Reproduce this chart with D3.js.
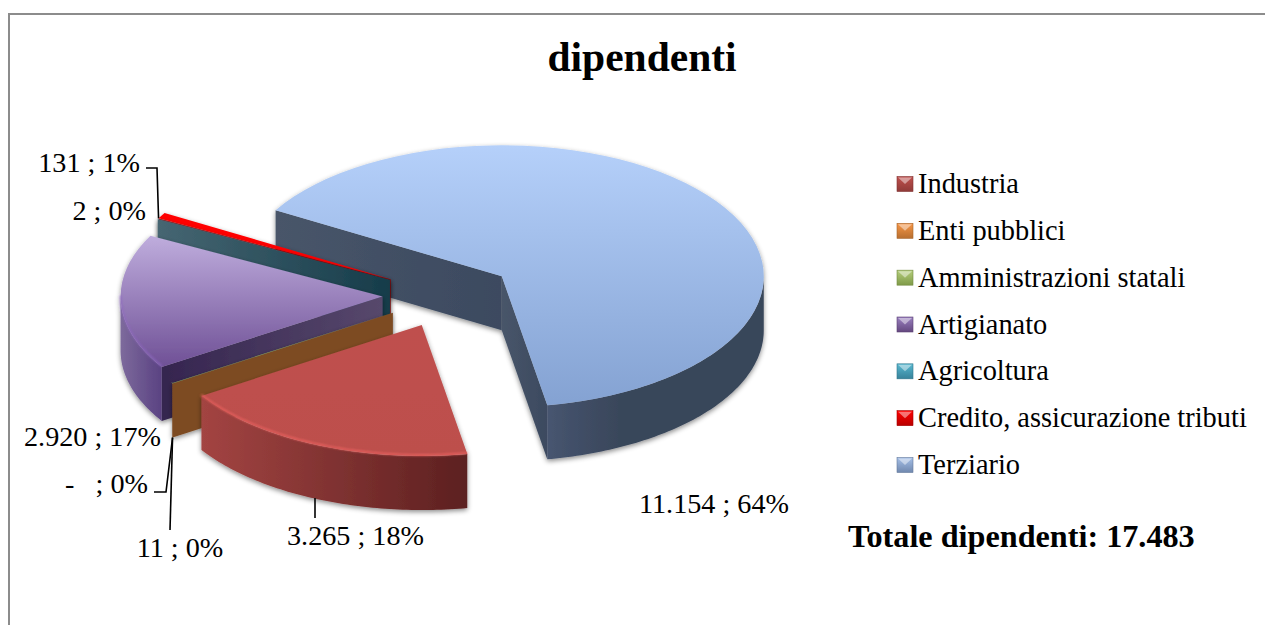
<!DOCTYPE html>
<html>
<head>
<meta charset="utf-8">
<title>dipendenti</title>
<script src="https://cdn.jsdelivr.net/npm/d3@7"></script>
<style>
  html, body { margin: 0; padding: 0; background: #fff; }
  svg { display: block; }
  text { font-family: "Liberation Serif", serif; fill: #000; }
</style>
</head>
<body>
<div id="chart"></div>
<script>
const categories = ['Industria', 'Enti pubblici', 'Amministrazioni statali', 'Artigianato', 'Agricoltura', 'Credito, assicurazione tributi', 'Terziario'];
const values = [3265, 0, 11, 2920, 2, 131, 11154];
const percents = [18, 0, 0, 17, 0, 1, 64];
const chartTitle = 'dipendenti';
const totalLabel = 'Totale dipendenti: 17.483';

// styling, same order as categories: top from/to, wall from/to, legend from/to
const topColors = [['#bf504e', '#bd4f4c'], ['#f79646', '#f79646'], ['#9bbb59', '#9bbb59'], ['#bfaddd', '#6f5096'], ['#4bacc6', '#4bacc6'], ['#ff0000', '#ff0000'], ['#b5d0fa', '#84a2d2']];
const wallColors = [['#a34442', '#5c2020'], ['#7d4b24', '#7d4b24'], ['#7d4b24', '#7d4b24'], ['#7d6a9c', '#5a4282'], ['#466672', '#163c4a'], ['#8a0000', '#8a0000'], ['#475570', '#39465a', '#39465a', '#39465a']];
const cutColors = [null, null, ['#7d4b24', '#7d4b24'], ['#35254f', '#57486c'], null, null, ['#485569', '#3c4a60']];
const legendColors = [['#c0504d', '#8f3a38'], ['#f79646', '#b86f30'], ['#b5cf7c', '#7f9a48'], ['#9a80c0', '#64487f'], ['#58b8d0', '#37829a'], ['#ff0000', '#b80000'], ['#a6c0e8', '#7088ae']];

// label text placement: [x, baseline, anchor] per category
const labelSpots = [[355.5, 545, 'middle'], [148, 493, 'end'], [180, 557, 'middle'], [161, 446, 'end'], [146, 220, 'end'], [140, 172, 'end'], [714, 513, 'middle']];

const w = 1265, h = 625;
const cx = 448, cy = 295;      // pie centre before the slices are pulled out
const rx = 262, ry = 131;
const depth = 54;
const explode = 0.25;
const rotation = 170 * Math.PI / 180;

const itFormat = d3.formatLocale({ decimal: ',', thousands: '.', grouping: [3], currency: ['', ' €'] }).format(',d');
const labelText = (v, p) => (v === 0 ? '-  ' : itFormat(v)) + ' ; ' + p + '%';

const svg = d3.select('#chart').append('svg').attr('width', w).attr('height', h);
const defs = svg.append('defs');

function addGradient(id, colors, vertical) {
  defs.append('linearGradient')
    .attr('id', id)
    .attr('x1', 0).attr('y1', 0)
    .attr('x2', vertical ? 0 : 1).attr('y2', vertical ? 1 : 0)
    .selectAll('stop')
    .data(colors)
    .enter()
    .append('stop')
    .attr('offset', (d, i) => i / (colors.length - 1))
    .attr('stop-color', d => d);
}

categories.forEach((c, i) => {
  addGradient('top' + i, topColors[i], true);
  addGradient('wall' + i, wallColors[i], false);
  if (cutColors[i]) addGradient('cut' + i, cutColors[i], false);
  addGradient('leg' + i, legendColors[i], true);
});

const shadow = defs.append('filter').attr('id', 'shadow')
  .attr('x', '-10%').attr('y', '-10%').attr('width', '120%').attr('height', '125%');
shadow.append('feDropShadow')
  .attr('dx', 0).attr('dy', 2).attr('stdDeviation', 2.4)
  .attr('flood-color', '#000').attr('flood-opacity', 0.45);

const soft = defs.append('filter').attr('id', 'soft');
soft.append('feGaussianBlur').attr('stdDeviation', 0.8);

// frame of the chart area, only top and left show up in the crop
svg.append('path')
  .attr('d', d3.line()([[9, h], [9, 14], [w, 14]]))
  .attr('fill', 'none').attr('stroke', '#8c8c8c').attr('stroke-width', 2);

svg.append('text')
  .attr('x', 642).attr('y', 71)
  .attr('text-anchor', 'middle')
  .attr('font-weight', 'bold')
  .attr('font-size', 41.5)
  .text(chartTitle);

// pie layout, clockwise from the Industria cut
const pie = d3.pie().value(d => d).sort(null)
  .startAngle(rotation).endAngle(rotation + 2 * Math.PI);
const slices = pie(values);

const rim = (a, k = 1) => [Math.sin(a) * rx * k, -Math.cos(a) * ry * k];
const offset = d => rim((d.startAngle + d.endAngle) / 2, explode);
const anchorOf = (d, a, down = 0) => {
  const o = offset(d), p = rim(a);
  return [cx + o[0] + p[0], cy + o[1] + p[1] + down];
};

const arc = d3.arc().innerRadius(0).outerRadius(1);
const curve = d3.line();

function rimPoints(a0, a1, down) {
  const n = Math.max(2, Math.ceil((a1 - a0) * 60));
  return d3.range(n + 1).map(i => {
    const p = rim(a0 + (a1 - a0) * i / n);
    return [p[0], p[1] + down];
  });
}

// outer wall only exists where the rim faces the viewer
function frontPart(a0, a1) {
  for (const k of [0, 1]) {
    const s = Math.max(a0, Math.PI / 2 + k * 2 * Math.PI);
    const e = Math.min(a1, 1.5 * Math.PI + k * 2 * Math.PI);
    if (e > s) return [s, e];
  }
  return null;
}

// back to front, terziario first, industria last
const drawOrder = [6, 5, 4, 3, 2, 0];
const nodes = svg.selectAll('.slice')
  .data(drawOrder.map(i => slices[i]))
  .enter()
  .append('g')
  .attr('class', 'slice')
  .attr('filter', 'url(#shadow)')
  .attr('transform', d => {
    const o = offset(d);
    return 'translate(' + (cx + o[0]) + ',' + (cy + o[1]) + ')';
  });

nodes.each(function (d) {
  const g = d3.select(this);
  const i = d.index;
  const a0 = d.startAngle, a1 = d.endAngle;
  const cutFill = 'url(#' + (cutColors[i] ? 'cut' : 'wall') + i + ')';

  const cutWall = a => {
    const p = rim(a);
    g.append('path')
      .attr('d', curve([[0, 0], p, [p[0], p[1] + depth], [0, depth]]) + 'Z')
      .attr('fill', cutFill);
  };
  if (Math.cos(a0 - Math.PI / 2) < 0) cutWall(a0);
  if (Math.cos(a1 + Math.PI / 2) < 0) cutWall(a1);

  const front = frontPart(a0, a1);
  if (front) {
    const pts = rimPoints(front[0], front[1], 0)
      .concat(rimPoints(front[0], front[1], depth).reverse());
    g.append('path')
      .attr('d', curve(pts) + 'Z')
      .attr('fill', 'url(#wall' + i + ')');
  }

  g.append('path')
    .attr('d', arc({ startAngle: a0, endAngle: a1 }))
    .attr('transform', 'scale(' + rx + ',' + ry + ')')
    .attr('fill', 'url(#top' + i + ')');

  // thin light bevel on the front rim, terziario has none to speak of
  if (front && i !== 6) {
    g.append('path')
      .attr('d', curve(rimPoints(front[0], front[1], -1)))
      .attr('fill', 'none')
      .attr('stroke', d3.color(topColors[i][1]).brighter(0.7))
      .attr('stroke-width', 1.4)
      .attr('filter', 'url(#soft)');
  }
});

// leader lines
const leaderAt = i => slices[i];
const leaders = [
  [[315, 498], [315, 518]],
  [anchorOf(leaderAt(2), leaderAt(2).startAngle, depth), [166, 492], [154, 492]],
  [anchorOf(leaderAt(2), leaderAt(2).startAngle, depth), [170, 530]],
  [anchorOf(leaderAt(5), leaderAt(5).startAngle), [157, 168], [146, 168]]
];
svg.selectAll('.leader')
  .data(leaders)
  .enter()
  .append('path')
  .attr('class', 'leader')
  .attr('d', d => d3.line()(d))
  .attr('fill', 'none')
  .attr('stroke', '#000')
  .attr('stroke-width', 1.6);

svg.selectAll('.dataLabel')
  .data(categories)
  .enter()
  .append('text')
  .attr('class', 'dataLabel')
  .attr('x', (d, i) => labelSpots[i][0])
  .attr('y', (d, i) => labelSpots[i][1])
  .attr('text-anchor', (d, i) => labelSpots[i][2])
  .attr('font-size', 28.2)
  .attr('xml:space', 'preserve')
  .style('white-space', 'pre')
  .text((d, i) => labelText(values[i], percents[i]));

// legend
const legendY = d3.scalePoint().domain(categories).range([184, 465]);
const legend = svg.selectAll('.legendItem')
  .data(categories)
  .enter()
  .append('g')
  .attr('class', 'legendItem')
  .attr('transform', d => 'translate(897,' + legendY(d) + ')');

legend.append('rect')
  .attr('x', 0).attr('y', -7.5)
  .attr('width', 16).attr('height', 15)
  .attr('fill', (d, i) => 'url(#leg' + i + ')')
  .attr('stroke', (d, i) => d3.color(legendColors[i][1]).darker(0.3))
  .attr('stroke-width', 0.6);

legend.append('path')
  .attr('d', curve([[1, -6.5], [15, -6.5], [8, 0]]) + 'Z')
  .attr('fill', '#fff')
  .attr('fill-opacity', 0.45);

legend.append('text')
  .attr('x', 21)
  .attr('y', 9)
  .attr('font-size', 28.4)
  .text(d => d);

svg.append('text')
  .attr('x', 848).attr('y', 547)
  .attr('font-weight', 'bold')
  .attr('font-size', 32.2)
  .text(totalLabel);
</script>
</body>
</html>
